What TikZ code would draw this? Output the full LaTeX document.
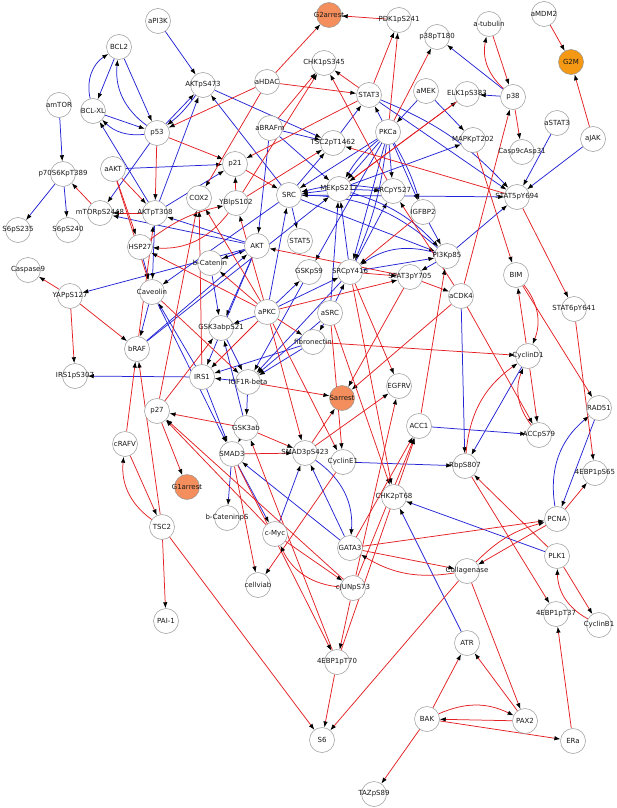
\documentclass[tikz,border=0pt]{standalone}
\usepackage{fontspec}
\setmainfont{DejaVu Sans}
\usetikzlibrary{arrows.meta,backgrounds}
\definecolor{redc}{RGB}{228,32,36}
\definecolor{bluec}{RGB}{36,36,214}
\definecolor{arrc}{RGB}{244,142,92}
\definecolor{gmc}{RGB}{245,152,20}
\definecolor{ringc}{RGB}{150,150,150}
\begin{document}
\begin{tikzpicture}[x=1pt,y=-1pt,
  lab/.style={font=\fontsize{7}{8}\selectfont,text=black!90,inner sep=0pt},
  nd/.style={circle,draw=ringc,line width=0.5pt,fill=white,minimum size=25pt,inner sep=0pt,
    label={[lab]center:#1}},
  orn/.style={nd=#1,fill=arrc},
  gmn/.style={nd=#1,fill=gmc},
  tip/.style={-{Latex[length=6pt,width=4.4pt,color=black]},line width=0.75pt},
  rr/.style={tip,draw=redc},
  bb/.style={tip,draw=bluec}]
\useasboundingbox (0,0) rectangle (617,808);
% nodes
\node[nd=aPI3K] (aPIK) at (158,21) {};
\node[nd=BCL2] (BCLtwo) at (119,47) {};
\node[nd=AKTpS473] (AKTs) at (203,85) {};
\node[nd=aHDAC] (aHDAC) at (267,82) {};
\node[nd=amTOR] (amTOR) at (59,105) {};
\node[nd=BCL-XL] (BCLXL) at (93,111) {};
\node[nd=p53] (pft) at (157,133) {};
\node[nd=aBRAFm] (aBRAFm) at (270,128) {};
\node[nd=p70S6KpT389] (psev) at (63,174) {};
\node[nd=aAKT] (aAKT) at (113,169) {};
\node[nd=p21] (ptwo) at (235,164) {};
\node[nd=SRC] (SRC) at (289,195) {};
\node[nd=COX2] (COX) at (199,198) {};
\node[nd=YBlpS102] (YB) at (236,203) {};
\node[nd=mTORpS2448] (mTOR) at (100,213) {};
\node[nd=AKTpT308] (AKTt) at (155,213) {};
\node[nd=S6pS235] (Sa) at (18,230) {};
\node[nd=S6pS240] (Sb) at (68,230) {};
\node[nd=HSP27] (HSP) at (140,247) {};
\node[nd=AKT] (AKT) at (257,246) {};
\node[nd=STAT5] (STATf) at (300,241) {};
\node[nd=b-Catenin] (bCat) at (210,263) {};
\node[nd=Caspase9] (Casp) at (28,270) {};
\node[orn=G2arrest] (Gtwo) at (329,15) {};
\node[nd=PDK1pS241] (PDK) at (399,20) {};
\node[nd=p38pT180] (ppT) at (437,37) {};
\node[nd=a-tubulin] (atub) at (489,24) {};
\node[nd=aMDM2] (aMDM) at (544,14) {};
\node[gmn=G2M] (GM) at (571,62) {};
\node[nd=CHK1pS345] (CHKo) at (324,63) {};
\node[nd=STAT3] (STATt) at (369,95) {};
\node[nd=aMEK] (aMEK) at (426,91) {};
\node[nd=ELK1pS383] (ELK) at (467,94) {};
\node[nd=p38] (pte) at (513,97) {};
\node[nd=PKCa] (PKCa) at (388,132) {};
\node[nd=aSTAT3] (aSTAT) at (557,123) {};
\node[nd=aJAK] (aJAK) at (593,139) {};
\node[nd=TSC2pT1462] (TSCp) at (333,143) {};
\node[nd=MAPKpT202] (MAPK) at (473,140) {};
\node[nd=Casp9cAsp31] (Caspc) at (522,152) {};
\node[nd=MEKpS217] (MEK) at (339,189) {};
\node[nd=SRCpY527] (SRCa) at (393,191) {};
\node[nd=STAT5pY694] (STATfp) at (517,197) {};
\node[nd=IGFBP2] (IGFBP) at (423,212) {};
\node[nd=PI3Kp85] (PIK) at (447,256) {};
\node[nd=YAPpS127] (YAP) at (70,296) {};
\node[nd=Caveolin] (Cav) at (152,292) {};
\node[nd=aPKC] (aPKC) at (267,312) {};
\node[nd=GSK3abpS21] (GSKtw) at (221,328) {};
\node[nd=bRAF] (bRAF) at (137,349) {};
\node[nd=IRS1pS307] (IRSp) at (75,376) {};
\node[nd=IRS1] (IRS) at (202,377) {};
\node[nd=IGF1R-beta] (IGF) at (248,382) {};
\node[nd=p27] (pts) at (157,411) {};
\node[nd=GSK3ab] (GSK) at (246,428) {};
\node[nd=cRAFV] (cRAF) at (125,444) {};
\node[nd=SMAD3] (SMAD) at (232,454) {};
\node[nd=SMAD3pS423] (SMADp) at (305,453) {};
\node[orn=G1arrest] (Gone) at (187,487) {};
\node[nd=b-CateninpS] (bCatp) at (227,518) {};
\node[nd=TSC2] (TSC) at (162,527) {};
\node[nd=c-Myc] (cMyc) at (275,534) {};
\node[nd=GSKpS9] (GSKn) at (309,272) {};
\node[nd=SRCpY416] (SRCb) at (350,272) {};
\node[nd=STAT3pY705] (STATtp) at (410,277) {};
\node[nd=BIM] (BIM) at (516,275) {};
\node[nd=aCDK4] (aCDK) at (461,296) {};
\node[nd=STAT6pY641] (STATs) at (574,309) {};
\node[nd=aSRC] (aSRC) at (330,313) {};
\node[nd=fibronectin] (fib) at (313,342) {};
\node[nd=CyclinD1] (CycD) at (528,356) {};
\node[orn=Sarrest] (Sarr) at (342,398) {};
\node[nd=EGFRV] (EGF) at (399,386) {};
\node[nd=RAD51] (RAD) at (599,408) {};
\node[nd=ACC1] (ACC) at (419,426) {};
\node[nd=ACCpS79] (ACCp) at (539,435) {};
\node[nd=CyclinE1] (CycE) at (343,462) {};
\node[nd=RbpS807] (Rb) at (465,466) {};
\node[nd=4EBP1pS65] (EBPa) at (595,473) {};
\node[nd=CHK2pT68] (CHKt) at (394,497) {};
\node[nd=PCNA] (PCNA) at (557,519) {};
\node[nd=GATA3] (GATA) at (350,548) {};
\node[nd=PLK1] (PLK) at (557,556) {};
\node[nd=Collagenase] (Coll) at (467,571) {};
\node[nd=cJUNpS73] (cJUN) at (353,588) {};
\node[nd=4EBP1pT37] (EBPb) at (556,614) {};
\node[nd=CyclinB1] (CycB) at (599,625) {};
\node[nd=ATR] (ATR) at (467,643) {};
\node[nd=4EBP1pT70] (EBPc) at (337,662) {};
\node[nd=BAK] (BAK) at (427,719) {};
\node[nd=PAX2] (PAX) at (525,721) {};
\node[nd=ERa] (ERa) at (573,741) {};
\node[nd=S6] (Ssix) at (322,740) {};
\node[nd=TAZpS89] (TAZ) at (374,794) {};
\node[nd=cellviab] (cell) at (258,585) {};
\node[nd=PAI-1] (PAI) at (166,621) {};
\begin{pgfonlayer}{background}
\fill[white] (0,0) rectangle (617,808);
% blue edges
\foreach \a/\b in {aPIK/AKTs,BCLtwo/BCLXL,BCLtwo/pft,BCLXL/pft,AKTt/BCLXL,pft/AKTs,AKTt/AKTs,
  amTOR/psev,psev/Sa,psev/Sb,pft/mTOR,aAKT/ptwo,AKTt/ptwo,aBRAFm/AKT,aBRAFm/TSCp,aBRAFm/MEK,SRC/AKTs,
  AKTs/TSCp,AKT/mTOR,AKT/AKTt,bCat/AKT,SRC/STATf,PKCa/STATt,pte/ppT,pte/ELK,aJAK/STATfp,
  aSTAT/STATfp,aMEK/MAPK,aMEK/PKCa,STATt/STATfp,TSCp/STATt,SRC/TSCp,PKCa/MEK,PKCa/SRCa,
  PKCa/IGFBP,PKCa/SRC,PKCa/SRCb,MEK/MAPK,SRC/STATfp,MEK/SRCa,PIK/STATfp,IGFBP/PIK,MEK/SRC,
  SRCb/MEK,aSRC/MEK,SRCb/SRCa,PIK/STATtp,AKT/YAP,Cav/bRAF,bRAF/AKT,bRAF/MEK,IRS/IRSp,
  IGF/IRS,fib/IRS,fib/IGF,aSRC/IGF,SRCb/IGF,GSKn/IGF,GSKtw/IGF,IGF/GSK,IRS/SMAD,GSK/SMAD,
  IRS/Cav,Cav/SMAD,aSRC/fib,aPKC/GSKtw,aPKC/GSKn,aPKC/SRC,aPKC/SRCb,bCat/GSKtw,AKT/GSKtw,
  AKT/bCat,SRC/Cav,cMyc/SMADp,GATA/SMADp,GATA/SMAD,SMAD/cMyc,SMAD/bCatp,aCDK/Rb,ACC/ACCp,
  CycD/Rb,CycE/Rb,RAD/PCNA,PLK/CHKt,ATR/CHKt,aSRC/SRCb,AKTt/Cav,HSP/Cav,GSK/GSKtw,PKCa/GSKn,
  SRC/PIK,SRCb/PIK,AKT/IRS}
  \draw[bb] (\a) -- (\b);
\draw[bb] (BCLXL) to[bend left=35] (BCLtwo);
\draw[bb] (pft) to[bend left=30] (BCLtwo);
\draw[bb] (pft) to[bend left=25] (BCLXL);
\draw[bb] (AKTs) to[bend left=8] (pft);
\draw[bb] (SMADp) to[bend left=30] (GATA);
\draw[bb] (PCNA) to[bend left=30] (RAD);
\draw[bb] (PIK) to[bend right=20] (SRC);
\draw[bb] (MEK) to[bend left=15] (PIK);
\draw[bb] (PIK) to[bend right=25] (SRCb);
\draw[bb] (PKCa) to[bend right=10] (MEK);
\draw[bb] (PKCa) to[bend left=6] (IGFBP);
\draw[bb] (PKCa) to[bend left=8] (SRCb);
\draw[bb] (STATt) to[bend left=12] (STATfp);
\draw[bb] (SRCa) to[bend right=12] (SRC);
% red edges
\foreach \a/\b in {aHDAC/pft,mTOR/psev,aAKT/AKTt,aAKT/HSP,aAKT/Cav,pft/AKTt,pft/ptwo,aHDAC/COX,
  aHDAC/Gtwo,aHDAC/STATt,ptwo/SRC,YB/ptwo,YB/TSCp,YB/CHKo,aBRAFm/CHKo,AKTt/mTOR,PDK/Gtwo,
  STATt/CHKo,STATt/PDK,PKCa/PDK,PKCa/ppT,pte/Caspc,aMDM/GM,aJAK/GM,MAPK/BIM,aCDK/pte,
  STATfp/TSCp,SRCa/CHKo,MEK/ELK,ELK/MEK,STATfp/STATs,STATt/ptwo,SRCb/STATtp,aCDK/SRCa,STATtp/aCDK,
  aPKC/STATtp,STATtp/AKT,YAP/Casp,YAP/IRSp,YAP/bRAF,cRAF/bRAF,TSC/bRAF,cRAF/TSC,TSC/PAI,
  TSC/Ssix,pts/GSKtw,pts/COX,pts/Gone,GSK/pts,cMyc/pts,cJUN/pts,IGF/Sarr,Cav/IGF,aPKC/IRS,
  aPKC/fib,aPKC/SMADp,aPKC/CycE,aPKC/COX,aPKC/YB,aPKC/HSP,aPKC/bCat,IRS/COX,SMAD/SMADp,GSK/SMADp,
  SMAD/cell,CycE/cell,EBPc/GSK,SMAD/EBPc,cMyc/cJUN,cJUN/EBPc,EBPc/ACC,cJUN/ACC,EBPc/Ssix,
  cJUN/EGF,SRCb/CHKt,aSRC/CycE,SMADp/Sarr,SMADp/EGF,STATtp/Sarr,aCDK/Sarr,SRCb/EGF,
  fib/CycD,aCDK/ACCp,CycD/ACCp,BIM/RAD,STATs/EBPa,PCNA/EBPa,Rb/EBPb,PLK/Rb,GATA/PCNA,
  PCNA/Coll,GATA/Coll,Coll/Ssix,Coll/PAX,PLK/CycB,ERa/EBPb,BAK/ATR,PAX/ATR,PAX/BAK,BAK/ERa,
  BAK/TAZ,ACC/PIK,aSRC/CHKt,IGFBP/SRCb,CycD/BIM,atub/pte,GATA/ACC,bRAF/AKTt}
  \draw[rr] (\a) -- (\b);
\draw[rr] (HSP) to[bend left=12] (YB);
\draw[rr] (YB) to[bend left=28] (HSP);
\draw[rr] (pte) to[bend left=30] (atub);
\draw[rr] (TSC) to[bend left=30] (cRAF);
\draw[rr] (cJUN) to[bend left=30] (cMyc);
\draw[rr] (ACCp) to[bend left=30] (CycD);
\draw[rr] (Rb) to[bend left=25] (CycD);
\draw[rr] (BIM) to[bend left=30] (CycD);
\draw[rr] (Coll) to[bend left=20] (GATA);
\draw[rr] (CycB) to[bend left=30] (PLK);
\draw[rr] (BAK) to[bend left=25] (PAX);
\draw[rr] (Coll) to[bend left=15] (PCNA);
\end{pgfonlayer}
\end{tikzpicture}
\end{document}
